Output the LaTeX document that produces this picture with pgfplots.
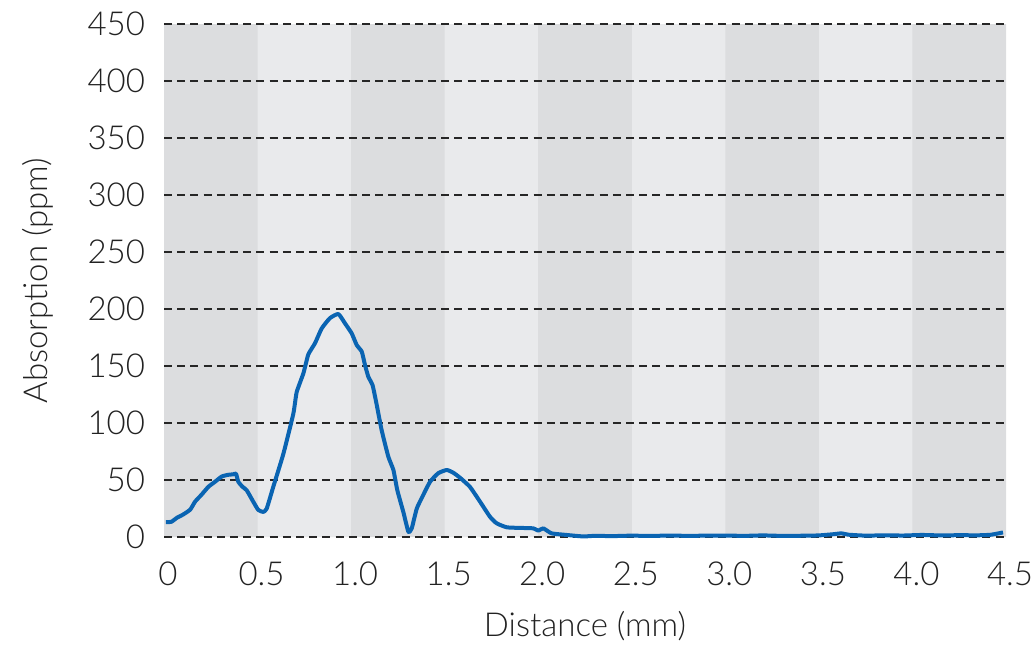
\documentclass[border=0pt]{standalone}
\usepackage{pgfplots}
\pgfplotsset{compat=1.18}
\usepackage{fontspec}
\setmainfont{Lato}[UprightFont=* Light]
\definecolor{darkband}{HTML}{DCDDDF}
\definecolor{lightband}{HTML}{E9EAEC}
\definecolor{curve}{HTML}{0A64B2}
\definecolor{txt}{HTML}{222222}
\begin{document}
\begin{tikzpicture}
\begin{axis}[
  name=ax,
  set layers,
  scale only axis,
  width=421pt, height=256.5pt,
  xmin=0, xmax=4.5, ymin=0, ymax=450,
  axis line style={draw=none},
  major tick length=0pt,
  xtick={0,0.5,1,1.5,2,2.5,3,3.5,4,4.5},
  xticklabels={0,0.5,1.0,1.5,2.0,2.5,3.0,3.5,4.0,4.5},
  ytick={0,50,100,150,200,250,300,350,400,450},
  yticklabels={0,50,100,150,200,250,300,350,400,450},
  ymajorgrids,
  major grid style={draw=black!85, line width=0.6pt, dash pattern=on 4pt off 2.6pt},
  axis background/.style={fill=lightband},
  tick label style={font=\fontsize{16.5}{19}\selectfont, text=txt},
  xticklabel style={yshift=-9pt, xshift=2pt},
  yticklabel style={xshift=-6pt},
  label style={font=\fontsize{16.5}{19}\selectfont, text=txt},
  xlabel={Distance (mm)},
  ylabel={Absorption (ppm)},
  xlabel style={yshift=-6pt},
  ylabel style={yshift=10pt},
  clip=false,
]
\addplot[on layer=axis background, ybar interval, fill=darkband, draw=none]
  coordinates {(0,450)(0.5,0)(1.0,450)(1.5,0)(2.0,450)(2.5,0)(3.0,450)(3.5,0)(4.0,450)(4.5,0)};
\addplot[curve, line width=2pt, line join=round, smooth, tension=0.3] coordinates {
(0.01,13)(0.04,13.4)(0.07,17)(0.10,19.5)(0.14,24)(0.166,31)(0.20,37)(0.237,44)(0.273,48.5)(0.308,53)(0.34,54.5)(0.37,55)(0.385,55.5)(0.397,48.5)(0.42,44)(0.442,41)(0.477,31)(0.504,23.7)(0.531,22)(0.549,25)(0.584,44)(0.638,73)(0.691,108)(0.709,127)(0.745,143.6)(0.771,160)(0.807,170)(0.843,183)(0.887,192)(0.932,195.6)(0.967,187.5)(1.003,178.7)(1.03,168.4)(1.057,162.6)(1.074,151)(1.092,140.6)(1.115,133)(1.137,115.8)(1.163,93.9)(1.199,70.4)(1.226,58.8)(1.247,41)(1.279,22)(1.306,4.6)(1.324,7.6)(1.351,25)(1.386,37)(1.422,48.5)(1.466,56)(1.511,58.8)(1.546,56.4)(1.582,52)(1.635,44)(1.689,31)(1.742,17.8)(1.778,12)(1.832,8.5)(1.90,8)(1.974,7.6)(2.0,5.6)(2.027,7.6)(2.072,3.2)(2.152,1.8)(2.24,0.5)(2.3,1.0)(2.4,0.8)(2.5,1.2)(2.6,0.9)(2.7,1.3)(2.8,1.0)(2.9,1.2)(3.0,1.3)(3.1,1.0)(3.2,1.4)(3.3,1.0)(3.4,1.1)(3.5,1.4)(3.58,2.5)(3.62,3.2)(3.66,2.0)(3.75,1.2)(3.85,1.5)(3.95,1.3)(4.05,1.8)(4.15,1.4)(4.25,1.6)(4.35,1.5)(4.42,2.0)(4.484,4)
};
\end{axis}
\pgfresetboundingbox
\path[use as bounding box] ([shift={(-82pt,-54pt)}]ax.south west) rectangle ([shift={(435pt,268.5pt)}]ax.south west);
\end{tikzpicture}
\end{document}
